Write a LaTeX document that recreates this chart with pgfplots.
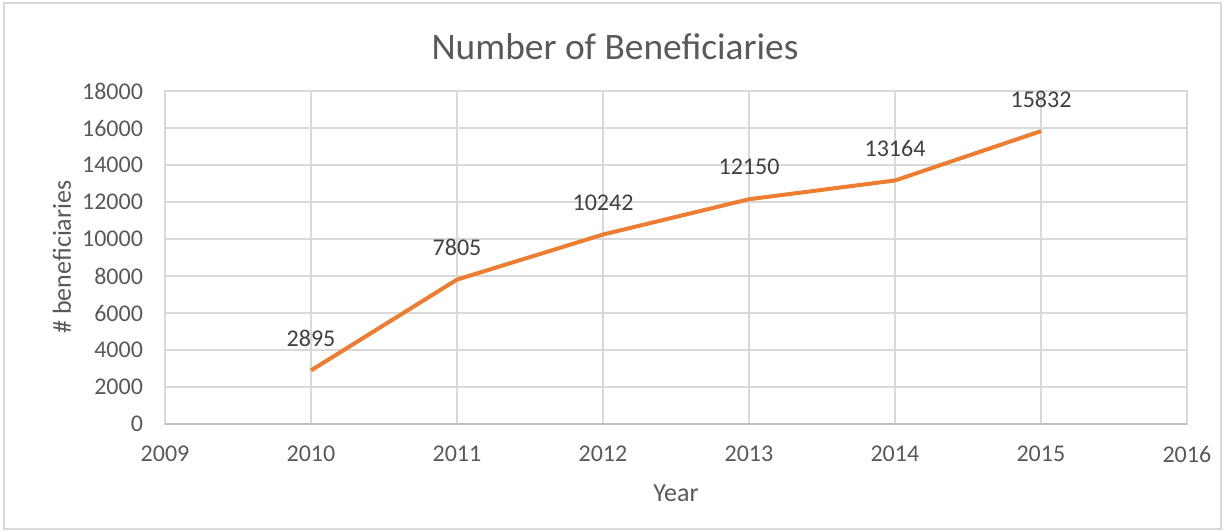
\documentclass[border=0pt]{standalone}
\usepackage{fontspec}
\setmainfont{Carlito}
\usepackage{pgfplots}
\pgfplotsset{compat=1.18}
\definecolor{txt}{HTML}{595959}
\definecolor{lbl}{HTML}{404040}
\definecolor{grd}{HTML}{D9D9D9}
\definecolor{axl}{HTML}{BFBFBF}
\definecolor{org}{HTML}{ED7D31}
\begin{document}
\begin{tikzpicture}
\path[use as bounding box] (0,0) rectangle (612.5pt,265.5pt);
\draw[color=grd, line width=0.8pt] (2pt,1pt) rectangle (610.5pt,264pt);
\begin{axis}[
  at={(82.5pt,53.5pt)}, anchor=south west,
  scale only axis, width=511pt, height=166.5pt,
  xmin=2009, xmax=2016, ymin=0, ymax=18000,
  xtick={2009,...,2016}, ytick={0,2000,...,18000},
  grid=major, major grid style={color=grd, line width=0.7pt},
  axis line style={color=grd, line width=0.7pt},
  tick style={draw=none},
  /pgf/number format/assume math mode=true,
  /pgf/number format/set thousands separator={},
  /pgf/number format/fixed,
  scaled ticks=false,
  ticklabel style={font=\fontsize{12}{14}\selectfont, text=txt},
  xticklabel style={yshift=-7.5pt},
  yticklabel style={xshift=-7.5pt},
  clip=false,
]
\addplot[color=org, line width=2pt, mark=none,
  nodes near coords, point meta=explicit symbolic,
  every node near coord/.style={font=\fontsize{12}{14}\selectfont, text=lbl, anchor=center, yshift=16pt}]
  coordinates {(2010,2895) [2895] (2011,7805) [7805] (2012,10242) [10242] (2013,12150) [12150] (2014,13164) [13164] (2015,15832) [15832]};
\draw[color=axl, line width=0.7pt] (axis cs:2009,0) -- (axis cs:2016,0);
\end{axis}
\node[font=\fontsize{18.7}{22}\selectfont, text=txt] at (307.5pt,242pt) {Number of Beneficiaries};
\node[font=\fontsize{13}{15}\selectfont, text=txt] at (338pt,19pt) {Year};
\node[font=\fontsize{13}{15}\selectfont, text=txt, rotate=90] at (31pt,137pt) {\# beneficiaries};
\end{tikzpicture}
\end{document}
